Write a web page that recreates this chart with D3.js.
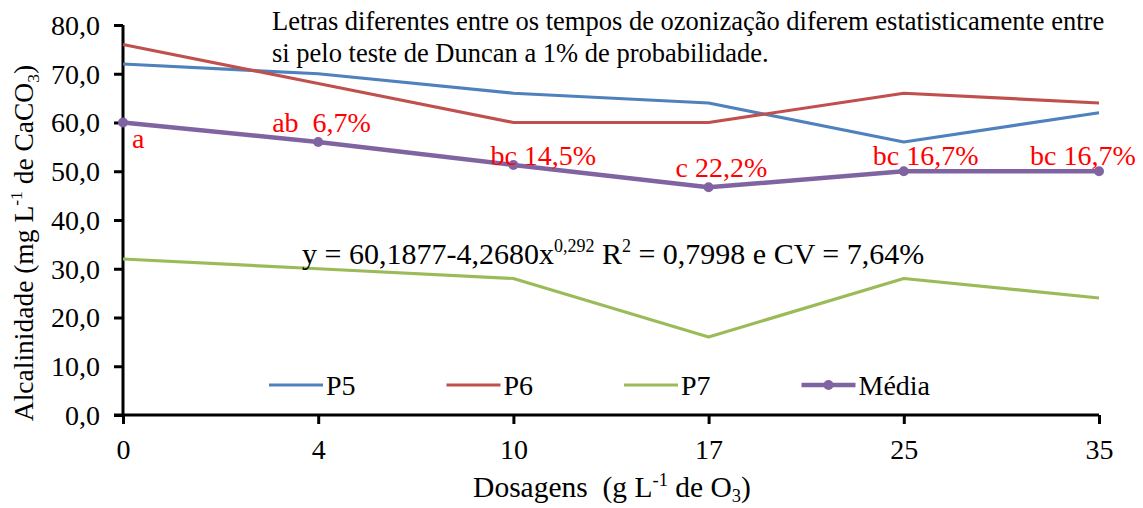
<!DOCTYPE html>
<html>
<head>
<meta charset="utf-8">
<script src="https://cdn.jsdelivr.net/npm/d3@7"></script>
<style>
  body { margin: 0; background: #fff; }
  svg text { font-family: "Times New Roman", "Liberation Serif", Tinos, "DejaVu Serif", serif !important; white-space: pre; }
</style>
</head>
<body>
<script>
const doses = ['0', '4', '10', '17', '25', '35']
const p5 = [72, 70, 66, 64, 56, 62]
const p6 = [76, 68, 60, 60, 66, 64]
const p7 = [32, 30, 28, 16, 28, 24]
const media = [60, 56, 51.3, 46.7, 50, 50]
const yTicks = [0, 10, 20, 30, 40, 50, 60, 70, 80]
const letters = ['a', 'ab ', 'bc', 'c', 'bc', 'bc']
const reductions = ['', '6,7%', '14,5%', '22,2%', '16,7%', '16,7%']
const seriesNames = ['P5', 'P6', 'P7', 'Média']

const width = 1143
const height = 508
const svg = d3.select('body').append('svg')
  .attr('width', width)
  .attr('height', height)
  .attr('viewBox', [0, 0, width, height])

const x = d3.scalePoint().domain(doses).range([123, 1099]).padding(0)
const y = d3.scaleLinear().domain([0, 80]).range([415, 25])

// axes
const yAxis = svg.append('g')
  .attr('transform', `translate(${x('0')},0)`)
  .call(d3.axisLeft(y).tickValues(yTicks).tickSize(9).tickPadding(14)
    .tickFormat(d => d3.format('.1f')(d).replace('.', ',')))
yAxis.select('.domain').attr('stroke', '#000').attr('stroke-width', 3).attr('d', `M0,${y(80)}V${y(0)}`)
yAxis.selectAll('.tick line').attr('stroke', '#000').attr('stroke-width', 3)
yAxis.selectAll('.tick text').attr('font-size', 28).attr('fill', '#000').attr('dy', '0.33em')

const xAxis = svg.append('g')
  .attr('transform', `translate(0,${y(0)})`)
  .call(d3.axisBottom(x).tickSize(9))
xAxis.select('.domain').attr('stroke', '#000').attr('stroke-width', 3).attr('d', `M${x('0') - 9},0H${x('35')}`)
xAxis.selectAll('.tick line').attr('stroke', '#000').attr('stroke-width', 3)
xAxis.selectAll('.tick text').attr('font-size', 28).attr('fill', '#000').attr('y', 44).attr('dy', 0)

// lines
const colors = ['#4F81BD', '#C0504D', '#9BBB59', '#8064A2']
const line = d3.line().x((d, i) => x(doses[i])).y(d => y(d))
const allSeries = [p5, p6, p7, media]

allSeries.forEach((s, k) => {
  svg.append('path')
    .attr('d', line(s))
    .attr('fill', 'none')
    .attr('stroke', colors[k])
    .attr('stroke-width', k === 3 ? 4.5 : 3.2)
    .attr('stroke-linejoin', 'round')
})

svg.append('g').selectAll('circle')
  .data(media)
  .join('circle')
    .attr('cx', (d, i) => x(doses[i]))
    .attr('cy', d => y(d))
    .attr('r', 5)
    .attr('fill', colors[3])

// red significance labels
const labelShift = [[9, 25.5], [-46, -10], [-23, 0], [-33, -10], [-31, -6], [-69, -6]]
svg.append('g').selectAll('text')
  .data(media)
  .join('text')
    .attr('x', (d, i) => x(doses[i]) + labelShift[i][0])
    .attr('y', (d, i) => y(d) + labelShift[i][1])
    .attr('font-size', 28)
    .attr('fill', '#FF0000')
    .text((d, i) => reductions[i] ? `${letters[i]} ${reductions[i]}` : letters[i])

// annotation
const note = svg.append('text').attr('font-size', 26.5).attr('fill', '#000')
note.append('tspan').attr('x', 272).attr('y', 30)
  .text('Letras diferentes entre os tempos de ozonização diferem estatisticamente entre')
note.append('tspan').attr('x', 272).attr('y', 62)
  .text('si pelo teste de Duncan a 1% de probabilidade.')

// regression equation
const eq = svg.append('text').attr('x', 302).attr('y', 264).attr('font-size', 30).attr('fill', '#000')
eq.append('tspan').text('y = 60,1877-4,2680x')
eq.append('tspan').attr('font-size', 18).attr('dy', -12).text('0,292')
eq.append('tspan').attr('dy', 12).text(' R')
eq.append('tspan').attr('font-size', 18).attr('dy', -12).text('2')
eq.append('tspan').attr('dy', 12).text(' = 0,7998 e CV = 7,64%')

// legend
const legend = svg.append('g').attr('transform', 'translate(269,385)')
seriesNames.forEach((name, k) => {
  const g = legend.append('g').attr('transform', `translate(${k * 177.5},0)`)
  g.append('line').attr('x1', 0).attr('x2', 54).attr('y1', 0).attr('y2', 0)
    .attr('stroke', colors[k]).attr('stroke-width', k === 3 ? 4.5 : 3.2)
  if (k === 3) g.append('circle').attr('cx', 27).attr('r', 5).attr('fill', colors[k])
  g.append('text').attr('x', 57).attr('y', 10).attr('font-size', 28).attr('fill', '#000').text(name)
})

// axis titles
const yt = svg.append('text')
  .attr('transform', `translate(33,243) rotate(-90)`)
  .attr('text-anchor', 'middle')
  .attr('font-size', 27.5)
  .attr('fill', '#000')
yt.append('tspan').text('Alcalinidade (mg L')
yt.append('tspan').attr('font-size', 17.5).attr('dy', -11).text('-1')
yt.append('tspan').attr('dy', 11).text(' de CaCO')
yt.append('tspan').attr('font-size', 17.5).attr('dy', 6).text('3')
yt.append('tspan').attr('dy', -6).text(')')

const xt = svg.append('text')
  .attr('x', 612).attr('y', 497)
  .attr('text-anchor', 'middle')
  .attr('font-size', 29.5)
  .attr('fill', '#000')
xt.append('tspan').text('Dosagens  (g L')
xt.append('tspan').attr('font-size', 18.5).attr('dy', -11).text('-1')
xt.append('tspan').attr('dy', 11).text(' de O')
xt.append('tspan').attr('font-size', 18.5).attr('dy', 5).text('3')
xt.append('tspan').attr('dy', -5).text(')')
</script>
</body>
</html>
